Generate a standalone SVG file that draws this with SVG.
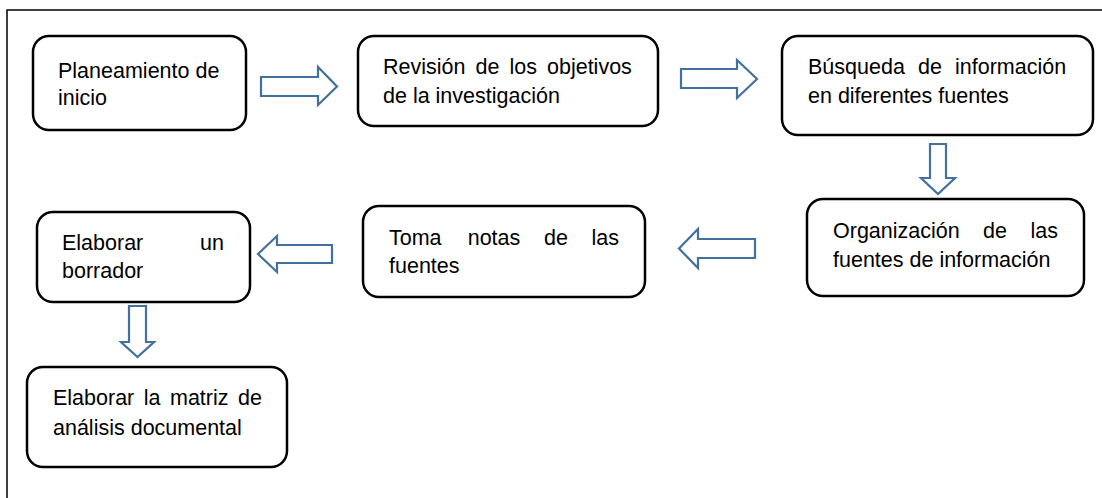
<svg xmlns="http://www.w3.org/2000/svg" width="1102" height="498" viewBox="0 0 1102 498">
<defs>
<style>
.box{fill:#fff;stroke:#000;stroke-width:2.5}
.arr{fill:#fff;stroke:#41719c;stroke-width:2.2;stroke-linejoin:miter}
.t{font-family:'Liberation Sans',Arial,sans-serif;font-size:21.5px;fill:#000}
</style>
</defs>
<rect width="1102" height="498" fill="#fff"/>
<rect x="7" y="10" width="1200" height="600" fill="none" stroke="#000" stroke-width="1.5"/>
<g id="connectors">
<polygon class="arr" points="261,77 318,77 318,67 337,86.5 318,105 318,96 261,96"/>
<polygon class="arr" points="681,69 737,69 737,60 757,79 737,98 737,88 681,88"/>
<polygon class="arr" points="930,144 946,144 946,178 955,178 938,194 921,178 930,178"/>
<polygon class="arr" points="755,239 698,239 698,229 679,248.5 698,268 698,258 755,258"/>
<polygon class="arr" points="332,245 277,245 277,236 258,254 277,272 277,263 332,263"/>
<polygon class="arr" points="129,306 146,306 146,342 154,342 137.5,357 121,342 129,342"/>
</g>
<g class="t">
<g id="n1">
<rect class="box" x="33" y="36" width="213" height="94" rx="16"/>
<text x="58" y="78">Planeamiento de</text>
<text x="58" y="105">inicio</text>
</g>
<g id="n2">
<rect class="box" x="358" y="36" width="300" height="90" rx="16"/>
<text y="74"><tspan x="383">Revisión</tspan><tspan x="475.5">de</tspan><tspan x="509.5">los</tspan><tspan x="547">objetivos</tspan></text>
<text x="383" y="103">de la investigación</text>
</g>
<g id="n3">
<rect class="box" x="782" y="36" width="311" height="99" rx="16"/>
<text y="74"><tspan x="808">Búsqueda</tspan><tspan x="918">de</tspan><tspan x="955">información</tspan></text>
<text x="808" y="103">en diferentes fuentes</text>
</g>
<g id="n4">
<rect class="box" x="807" y="199" width="277" height="97" rx="16"/>
<text y="238"><tspan x="833">Organización</tspan><tspan x="983">de</tspan><tspan x="1030.5">las</tspan></text>
<text x="833" y="267">fuentes de información</text>
</g>
<g id="n5">
<rect class="box" x="363" y="206" width="282" height="91" rx="16"/>
<text y="245"><tspan x="389">Toma</tspan><tspan x="467.7">notas</tspan><tspan x="544">de</tspan><tspan x="591.5">las</tspan></text>
<text x="389" y="273">fuentes</text>
</g>
<g id="n6">
<rect class="box" x="37" y="212" width="213" height="90" rx="16"/>
<text y="250"><tspan x="62">Elaborar</tspan><tspan x="200">un</tspan></text>
<text x="62" y="278">borrador</text>
</g>
<g id="n7">
<rect class="box" x="27" y="367" width="260" height="100" rx="16"/>
<text y="405"><tspan x="53">Elaborar</tspan><tspan x="143.8">la</tspan><tspan x="170">matriz</tspan><tspan x="238">de</tspan></text>
<text x="53" y="435">análisis documental</text>
</g>
</g>
</svg>
